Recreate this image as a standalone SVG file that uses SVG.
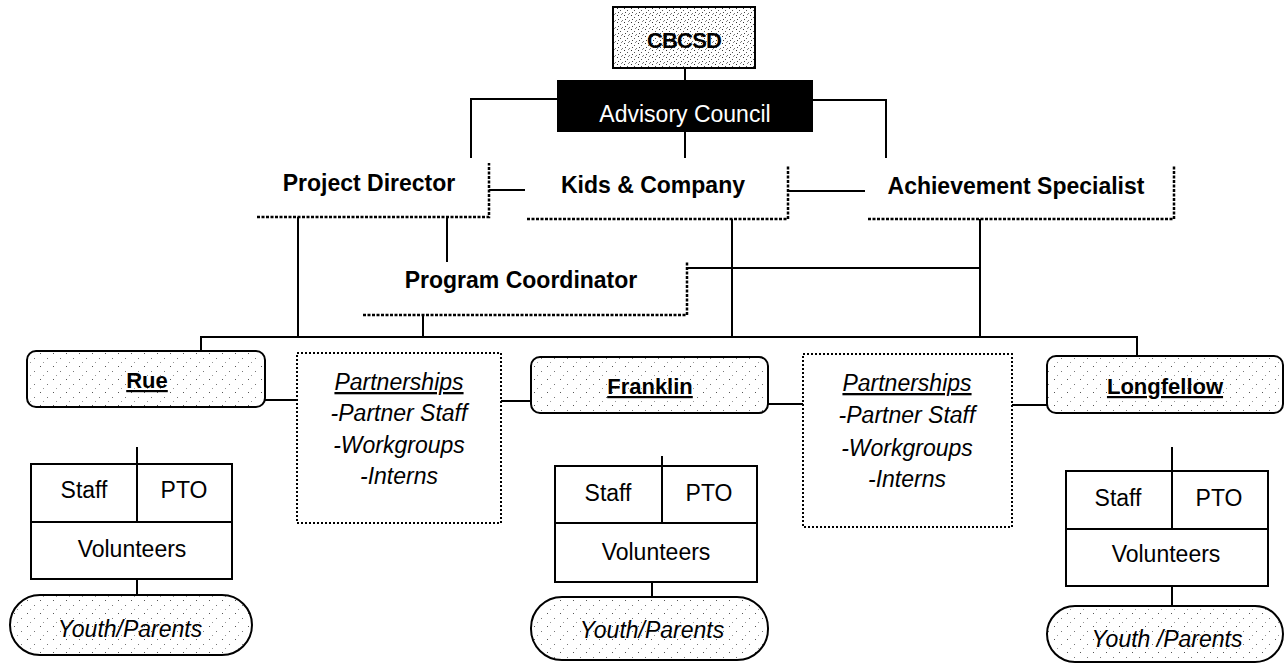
<svg xmlns="http://www.w3.org/2000/svg" width="1287" height="666" viewBox="0 0 1287 666">
<defs>
<pattern id="stip" width="13" height="13" patternUnits="userSpaceOnUse">
<rect width="13" height="13" fill="#fff"/>
<rect x="1" y="2" width="1" height="1" fill="#555"/>
<rect x="8" y="7" width="1" height="1" fill="#777"/>
<rect x="4" y="11" width="1" height="1" fill="#999"/>
</pattern>
<pattern id="stip2" width="7" height="7" patternUnits="userSpaceOnUse">
<rect width="7" height="7" fill="#fff"/>
<rect x="1" y="1" width="1" height="1" fill="#333"/>
<rect x="4" y="3" width="1" height="1" fill="#555"/>
<rect x="2" y="5" width="1" height="1" fill="#444"/>
<rect x="6" y="6" width="1" height="1" fill="#777"/>
<rect x="5" y="0" width="1" height="1" fill="#888"/>
</pattern>
</defs>
<style>
text{font-family:"Liberation Sans",Arial,sans-serif;text-anchor:middle;fill:#000}
.h{font-weight:bold;font-size:23px}
.r{font-size:23px}
.i{font-style:italic;font-size:23px}
.u{text-decoration:underline}
.site{fill:url(#stip);stroke:#000;stroke-width:2}
.edge{fill:none;stroke:#000;stroke-width:2.5;stroke-dasharray:3 1.5}
.part{fill:#fff;stroke:#000;stroke-width:2;stroke-dasharray:2 2}
.tbl{fill:#fff;stroke:#000;stroke-width:2}
.c{fill:none;stroke:#000;stroke-width:2}
</style>
<rect width="1287" height="666" fill="#fff"/>

<g id="connectors">
<path class="c" d="M685 68V80"/>
<path class="c" d="M557 99H471V158"/>
<path class="c" d="M813 100H886V158"/>
<path class="c" d="M685 132V158"/>
<path class="c" d="M489 190H525"/>
<path class="c" d="M788 191H865"/>
<path class="c" d="M298 217V337"/>
<path class="c" d="M447 217V262"/>
<path class="c" d="M732 219V337"/>
<path class="c" d="M980 219V338"/>
<path class="c" d="M687 268H980"/>
<path class="c" d="M423 315V337"/>
<path class="c" d="M201 351V337H1137V356"/>
<path class="c" d="M265 400H297"/>
<path class="c" d="M501 401H531"/>
<path class="c" d="M768 404H803"/>
<path class="c" d="M1012 405H1047"/>
<path class="c" d="M137 447V464"/>
<path class="c" d="M662 456V466"/>
<path class="c" d="M1172 447V471"/>
<path class="c" d="M137 579V595"/>
<path class="c" d="M652 582V597"/>
<path class="c" d="M1172 586V606"/>
</g>

<g id="cbcsd">
<rect x="613" y="7" width="142" height="61" fill="url(#stip2)" stroke="#000" stroke-width="2"/>
<text class="h" x="684" y="48" style="font-size:22px;letter-spacing:-0.8px">CBCSD</text>
</g>

<g id="advisory">
<rect x="557" y="80" width="256" height="52" fill="#000"/>
<text class="r" x="685" y="122" style="fill:#fff">Advisory Council</text>
</g>

<g id="project-director">
<path class="edge" d="M257 217H489V163"/>
<text class="h" x="369" y="191">Project Director</text>
</g>

<g id="kids-company">
<path class="edge" d="M527 219H788V165"/>
<text class="h" x="653" y="193">Kids &amp; Company</text>
</g>

<g id="achievement">
<path class="edge" d="M868 219H1174V165"/>
<text class="h" x="1016" y="194">Achievement Specialist</text>
</g>

<g id="program-coordinator">
<path class="edge" d="M363 315H687V262"/>
<text class="h" x="521" y="288">Program Coordinator</text>
</g>

<g id="rue">
<rect class="site" x="27" y="351" width="238" height="56" rx="9"/>
<text class="h u" x="147" y="388" style="font-size:22px">Rue</text>
</g>

<g id="partnerships-1">
<rect class="part" x="297" y="353" width="204" height="170"/>
<text class="i u" x="399" y="390">Partnerships</text>
<text class="i" x="399" y="421">-Partner Staff</text>
<text class="i" x="399" y="453">-Workgroups</text>
<text class="i" x="399" y="484">-Interns</text>
</g>

<g id="franklin">
<rect class="site" x="531" y="357" width="237" height="56" rx="9"/>
<text class="h u" x="650" y="394" style="font-size:22px">Franklin</text>
</g>

<g id="partnerships-2">
<rect class="part" x="803" y="354" width="209" height="173"/>
<text class="i u" x="907" y="391">Partnerships</text>
<text class="i" x="907" y="423">-Partner Staff</text>
<text class="i" x="907" y="456">-Workgroups</text>
<text class="i" x="907" y="487">-Interns</text>
</g>

<g id="longfellow">
<rect class="site" x="1047" y="356" width="236" height="57" rx="9"/>
<text class="h u" x="1165" y="394" style="font-size:22px">Longfellow</text>
</g>

<g id="rue-team">
<rect class="tbl" x="31" y="464" width="201" height="115"/>
<path class="c" d="M31 522H232M137 464V522"/>
<text class="r" x="84" y="498">Staff</text>
<text class="r" x="184" y="498">PTO</text>
<text class="r" x="132" y="557">Volunteers</text>
</g>

<g id="franklin-team">
<rect class="tbl" x="555" y="466" width="202" height="116"/>
<path class="c" d="M555 523H757M662 466V523"/>
<text class="r" x="608" y="501">Staff</text>
<text class="r" x="709" y="501">PTO</text>
<text class="r" x="656" y="560">Volunteers</text>
</g>

<g id="longfellow-team">
<rect class="tbl" x="1066" y="471" width="202" height="115"/>
<path class="c" d="M1066 529H1268M1172 471V529"/>
<text class="r" x="1118" y="506">Staff</text>
<text class="r" x="1219" y="506">PTO</text>
<text class="r" x="1166" y="562">Volunteers</text>
</g>

<g id="rue-youth">
<rect class="site" x="10" y="595" width="242" height="60" rx="30"/>
<text class="i" x="130" y="637">Youth/Parents</text>
</g>

<g id="franklin-youth">
<rect class="site" x="531" y="597" width="237" height="63" rx="31"/>
<text class="i" x="652" y="638">Youth/Parents</text>
</g>

<g id="longfellow-youth">
<rect class="site" x="1047" y="606" width="236" height="56" rx="28"/>
<text class="i" x="1167" y="647">Youth /Parents</text>
</g>
</svg>
